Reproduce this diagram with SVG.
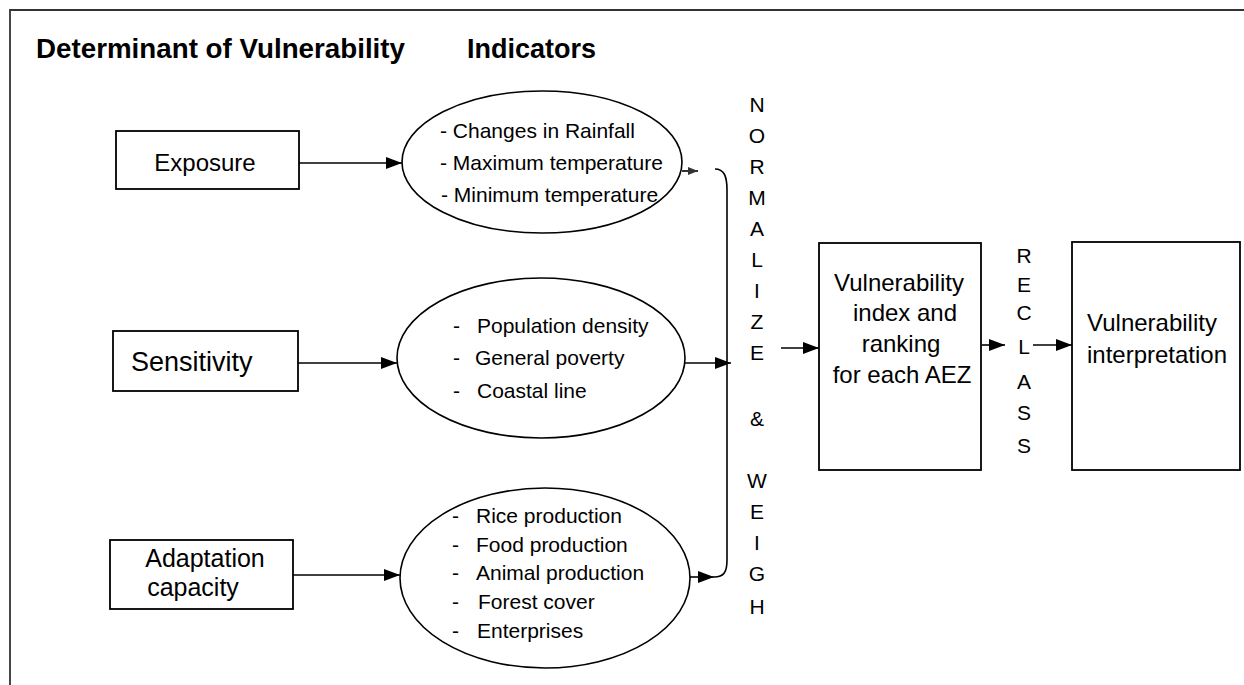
<svg xmlns="http://www.w3.org/2000/svg" width="1244" height="685" viewBox="0 0 1244 685">
<style>
text{font-family:"Liberation Sans",Arial,sans-serif;fill:#000}
.title{font-size:27px;font-weight:bold}
.box{fill:#fff;stroke:#000;stroke-width:1.8}
.ell{fill:#fff;stroke:#000;stroke-width:1.6}
.lbl{font-size:24px}
.big{font-size:27px}
.ad{font-size:25px}
.item{font-size:21px}
.vert{font-size:21px;text-anchor:middle}
.conn{fill:none;stroke:#000;stroke-width:1.6}
.mid{text-anchor:middle}
</style>
<defs>
<marker id="ah" viewBox="0 0 16 12" refX="16" refY="6" markerWidth="16" markerHeight="12" markerUnits="userSpaceOnUse" orient="auto">
<path d="M0,0 L16,6 L0,12 z" fill="#000"/>
</marker>
<marker id="ahs" viewBox="0 0 10 8" refX="10" refY="4" markerWidth="10" markerHeight="8" markerUnits="userSpaceOnUse" orient="auto">
<path d="M0,0 L10,4 L0,8 z" fill="#333"/>
</marker>
</defs>
<rect width="1244" height="685" fill="#fff"/>
<path d="M10,685 V10 H1244" fill="none" stroke="#333" stroke-width="1.8"/>
<g id="headers">
<text class="title" x="36" y="58" textLength="369" lengthAdjust="spacingAndGlyphs">Determinant of Vulnerability</text>
<text class="title" x="467" y="58">Indicators</text>
</g>
<g id="exposure">
<rect class="box" x="116" y="131" width="183" height="58"/>
<text class="lbl mid" x="205" y="171">Exposure</text>
</g>
<g id="sensitivity">
<rect class="box" x="113" y="331" width="185" height="60"/>
<text class="big" x="131" y="371">Sensitivity</text>
</g>
<g id="adaptation">
<rect class="box" x="110" y="540" width="183" height="69"/>
<text class="ad mid" x="205" y="567">Adaptation</text>
<text class="ad mid" x="193" y="596">capacity</text>
</g>
<g id="exposure-indicators">
<ellipse class="ell" cx="542" cy="162" rx="140" ry="71"/>
<text class="item" x="440" y="138">- Changes in Rainfall</text>
<text class="item" x="440" y="170">- Maximum temperature</text>
<text class="item" x="441" y="202">- Minimum temperature</text>
</g>
<g id="sensitivity-indicators">
<ellipse class="ell" cx="541" cy="358" rx="144" ry="80"/>
<text class="item" x="453" y="333">-</text><text class="item" x="477" y="333">Population density</text>
<text class="item" x="453" y="365">-</text><text class="item" x="475" y="365">General poverty</text>
<text class="item" x="453" y="398">-</text><text class="item" x="477" y="398">Coastal line</text>
</g>
<g id="adaptation-indicators">
<ellipse class="ell" cx="545" cy="578" rx="145" ry="90"/>
<text class="item" x="452" y="523">-</text><text class="item" x="476" y="523">Rice production</text>
<text class="item" x="452" y="552">-</text><text class="item" x="476" y="552">Food production</text>
<text class="item" x="452" y="580">-</text><text class="item" x="476" y="580">Animal production</text>
<text class="item" x="452" y="609">-</text><text class="item" x="478" y="609">Forest cover</text>
<text class="item" x="452" y="638">-</text><text class="item" x="477" y="638">Enterprises</text>
</g>
<g id="normalize">
<text class="vert" x="757" y="112">N</text>
<text class="vert" x="757" y="143">O</text>
<text class="vert" x="757" y="174">R</text>
<text class="vert" x="757" y="205">M</text>
<text class="vert" x="757" y="236">A</text>
<text class="vert" x="757" y="267">L</text>
<text class="vert" x="757" y="298">I</text>
<text class="vert" x="757" y="329">Z</text>
<text class="vert" x="757" y="360">E</text>
<text class="vert" x="757" y="426">&amp;</text>
<text class="vert" x="757" y="488">W</text>
<text class="vert" x="757" y="519">E</text>
<text class="vert" x="757" y="550">I</text>
<text class="vert" x="757" y="581">G</text>
<text class="vert" x="757" y="614">H</text>
</g>
<g id="index">
<rect class="box" x="819" y="243" width="162" height="227"/>
<text class="lbl mid" x="899" y="291">Vulnerability</text>
<text class="lbl mid" x="905" y="321">index and</text>
<text class="lbl mid" x="901" y="352">ranking</text>
<text class="lbl mid" x="902" y="383">for each AEZ</text>
</g>
<g id="reclass">
<text class="vert" x="1024" y="263">R</text>
<text class="vert" x="1024" y="292">E</text>
<text class="vert" x="1024" y="320">C</text>
<text class="vert" x="1024" y="354">L</text>
<text class="vert" x="1024" y="389">A</text>
<text class="vert" x="1024" y="420">S</text>
<text class="vert" x="1024" y="453">S</text>
</g>
<g id="interpretation">
<rect class="box" x="1072" y="242" width="168" height="228"/>
<text class="lbl mid" x="1152" y="331">Vulnerability</text>
<text class="lbl mid" x="1157" y="363">interpretation</text>
</g>
<g id="connectors">
<path class="conn" d="M299,163 H402" marker-end="url(#ah)"/>
<path class="conn" d="M298,363 H397" marker-end="url(#ah)"/>
<path class="conn" d="M293,575 H400" marker-end="url(#ah)"/>
<path class="conn" d="M682,171 H698" stroke="#333" stroke-width="1.2" marker-end="url(#ahs)"/>
<path class="conn" d="M685,363 H731" stroke-width="3" marker-end="url(#ah)"/>
<path class="conn" d="M690,577 H714" marker-end="url(#ah)"/>
<path class="conn" d="M715,169 C724,169 727,176 727,190 L727,560 C727,572 724,577 714,577"/>
<path class="conn" d="M781,348 H819" marker-end="url(#ah)"/>
<path class="conn" d="M982,345 H1005" marker-end="url(#ah)"/>
<path class="conn" d="M1033,345 H1072" marker-end="url(#ah)"/>
</g>
</svg>
